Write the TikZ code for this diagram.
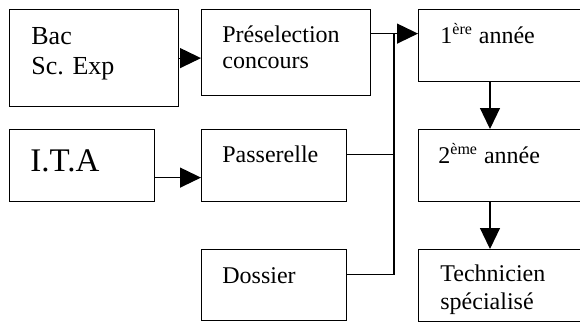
\documentclass[tikz,border=0pt]{standalone}
\usepackage{fontspec}
\setmainfont{Liberation Serif}
\usetikzlibrary{arrows.meta, positioning, calc}

\tikzset{
  box/.style={draw, rectangle, line width=0.6pt, anchor=north west, inner sep=0pt},
  txt/.style={anchor=base west, inner sep=0pt, align=left, font=\fontsize{12}{14}\selectfont},
  link/.style={line width=0.6pt},
  arr/.style={line width=0.6pt, -{Triangle[length=10.5pt,width=10pt]}}
}

\begin{document}
\begin{tikzpicture}[x=0.5pt,y=-0.5pt]
\useasboundingbox (0,0) rectangle (580,322);

% Entry boxes (left column)
\node[box, minimum width=84.5pt, minimum height=48.5pt] (bac) at (9,9) {};
\node[txt, font=\fontsize{13}{15}\selectfont] (bact) at ([shift={(11pt,-32.5pt)}]bac.north west) {Bac\\Sc. Exp};

\node[box, minimum width=72.5pt, minimum height=36pt] (ita) at (9,129) {};
\node[txt, font=\fontsize{16.5}{18}\selectfont] (itat) at ([shift={(10.5pt,-21pt)}]ita.north west) {I.T.A};

% Admission routes (middle column)
\node[box, minimum width=84.5pt, minimum height=43pt] (pres) at (201,9) {};
\node[txt, font=\fontsize{12}{13}\selectfont] (prest) at ([shift={(10.5pt,-29.5pt)}]pres.north west) {Préselection\\concours};

\node[box, minimum width=72.5pt, minimum height=36pt] (pass) at (201,129) {};
\node[txt] (passt) at ([shift={(10.5pt,-16.5pt)}]pass.north west) {Passerelle};

\node[box, minimum width=72.5pt, minimum height=35.5pt] (doss) at (201,249) {};
\node[txt] (dosst) at ([shift={(10.5pt,-17pt)}]doss.north west) {Dossier};

% Training years (right column, cut by the page edge)
\node[box, minimum width=91pt, minimum height=36pt] (an1) at (418,9) {};
\node[txt] (an1t) at ([shift={(11pt,-17pt)}]an1.north west) {1\textsuperscript{ère} année};

\node[box, minimum width=91pt, minimum height=36pt] (an2) at (418,129) {};
\node[txt] (an2t) at ([shift={(10pt,-17pt)}]an2.north west) {2\textsuperscript{ème} année};

\node[box, minimum width=91pt, minimum height=36pt] (tech) at (418,249) {};
\node[txt] (techt) at ([shift={(11pt,-30pt)}]tech.north west) {Technicien\\spécialisé};

% Connectors
\coordinate (bus) at (394,33);
\draw[arr] (bac.east) -- (bac.east -| pres.west);
\draw[arr] ([yshift=-6pt]ita.east) -- ([yshift=-6pt]ita.east -| pass.west);
\draw[arr] ([yshift=9.5pt]pres.east) -- ([yshift=9.5pt]pres.east -| an1.west);
\draw[link] ([yshift=5.5pt]pass.east) -| (bus);
\draw[link] ([yshift=5.5pt]doss.east) -| (bus);
\draw[arr] ([xshift=36pt]an1.south west) -- ([xshift=36pt]an1.south west |- an2.north);
\draw[arr] ([xshift=36pt]an2.south west) -- ([xshift=36pt]an2.south west |- tech.north);
\end{tikzpicture}
\end{document}
